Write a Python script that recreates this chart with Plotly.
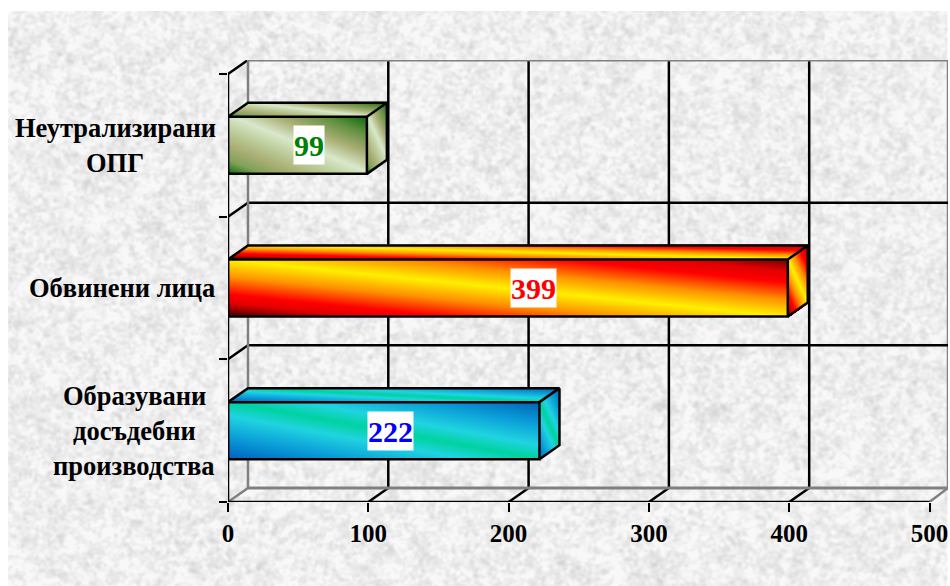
import base64, struct, zlib
import numpy as np
import plotly.graph_objects as go

# ---- data ----
categories = [["Образувани", "досъдебни", "производства"], ["Обвинени лица"], ["Неутрализирани", "ОПГ"]]
values = [222, 399, 99]
label_colors = ["#0000FF", "#FF0000", "#008000"]
x_ticks = [0, 100, 200, 300, 400, 500]

# ---- page geometry (px in the window) ----
FIG_W, FIG_H = 950, 586
PL, PR, PT, PB = 228, 948.5, 60, 502
X_PER_PX = 100 / 140.4
Y_PER_PX = 3 / 428.0
DX, DY = 20 * X_PER_PX, 14 * Y_PER_PX
XMAX = (PR - PL) * X_PER_PX
YMAX = 3 + DY
BAR_H = 0.4

green = [[0, "#0b680b"], [.12, "#7fa058"], [.25, "#a9ae74"], [.38, "#bccb98"], [.52, "#d8e8ca"], [.68, "#a9ae74"], [.85, "#5f8f3f"], [1, "#0b680b"]]
fire = [[0, "#300000"], [.12, "#e00000"], [.2, "#ff0000"], [.35, "#ff9000"], [.5, "#fff000"], [.65, "#ff9000"], [.8, "#ff0000"], [.9, "#e00000"], [1, "#700000"]]
ocean = [[0, "#0060c0"], [.2, "#0a9fd8"], [.38, "#20d4e0"], [.5, "#00d2a0"], [.62, "#20d4e0"], [.8, "#0a9fd8"], [1, "#0060b8"]]
scales = [ocean, fire, green]


def blur(a, sigma):
    fy = np.fft.fftfreq(a.shape[0])[:, None]
    fx = np.fft.rfftfreq(a.shape[1])[None, :]
    return np.fft.irfft2(np.fft.rfft2(a) * np.exp(-2 * (np.pi * sigma) ** 2 * (fx ** 2 + fy ** 2)), s=a.shape)


def texture(w, h):
    yy, xx = np.mgrid[0:h, 0:w].astype(float)
    n = np.sin(xx * 12.9898 + yy * 78.233 + xx * yy * 0.00371) * 43758.5453
    n -= np.floor(n)
    n = n - n.mean()
    fine, coarse = blur(n, 1.5), blur(n, 4.5)
    f = fine / fine.std() + 0.3 * coarse / coarse.std()
    f /= f.std()
    v = 239 - np.clip(f, -1.3, 3.5) * 7
    g = np.clip(v, 0, 255).astype(np.uint8)
    raw = b"".join(b"\x00" + g[i].tobytes() for i in range(h))

    def chunk(t, d):
        return struct.pack(">I", len(d)) + t + d + struct.pack(">I", zlib.crc32(t + d))
    png = b"\x89PNG\r\n\x1a\n" + chunk(b"IHDR", struct.pack(">IIBBBBB", w, h, 8, 0, 0, 0, 0)) + chunk(b"IDAT", zlib.compress(raw, 9)) + chunk(b"IEND", b"")
    return "data:image/png;base64," + base64.b64encode(png).decode()


def face(origin, uvec, vvec, scale):
    """Diagonal gradient on a parallelogram, drawn as a masked heatmap."""
    xs = [origin[0], origin[0] + uvec[0], origin[0] + vvec[0], origin[0] + uvec[0] + vvec[0]]
    ys = [origin[1], origin[1] + uvec[1], origin[1] + vvec[1], origin[1] + uvec[1] + vvec[1]]
    xe = np.arange(min(xs), max(xs) + X_PER_PX, X_PER_PX)
    ye = np.arange(min(ys), max(ys) + Y_PER_PX, Y_PER_PX)
    xc, yc = np.meshgrid((xe[:-1] + xe[1:]) / 2, (ye[:-1] + ye[1:]) / 2)
    det = uvec[0] * vvec[1] - uvec[1] * vvec[0]
    px, py = xc - origin[0], yc - origin[1]
    u = (px * vvec[1] - py * vvec[0]) / det
    v = (py * uvec[0] - px * uvec[1]) / det
    z = (u + v) / 2
    tu = 1 / np.hypot(uvec[0] / X_PER_PX, uvec[1] / Y_PER_PX)
    tv = 1 / np.hypot(vvec[0] / X_PER_PX, vvec[1] / Y_PER_PX)
    z[(u < -tu) | (u > 1 + tu) | (v < -tv) | (v > 1 + tv)] = np.nan
    return go.Heatmap(x=xe, y=ye, z=z, zmin=0, zmax=1, colorscale=scale, showscale=False,
                      hoverinfo="skip", xaxis="x2", yaxis="y2")


def line(xs, ys, color="black", width=2.5):
    return go.Scatter(x=xs, y=ys, mode="lines", line=dict(color=color, width=width), hoverinfo="skip",
                      showlegend=False, cliponaxis=False)


fig = go.Figure()

# walls and floor
GRAY = "#808080"
for t in x_ticks[1:-1]:
    fig.add_trace(line([t + DX, t + DX], [DY, 3 + DY]))
    fig.add_trace(line([t, t + DX], [0, DY]))
fig.add_trace(line([500, XMAX], [0, DY], GRAY))
fig.add_trace(line([XMAX, XMAX], [DY, 3 + DY], GRAY))
for k in range(1, 3):
    fig.add_trace(line([DX, XMAX], [k + DY, k + DY]))
for k in range(1, 4):
    fig.add_trace(line([0, DX], [k, k + DY]))
fig.add_trace(line([0, DX], [0, DY], GRAY))
fig.add_trace(line([DX, DX], [DY, 3 + DY], GRAY))
fig.add_trace(line([DX, XMAX], [DY, DY], GRAY, 3))
fig.add_trace(line([DX, XMAX], [3 + DY, 3 + DY], GRAY, 3))
fig.add_trace(line([0, 0], [0, 3]))
fig.add_trace(line([0, 500], [0, 0]))

# bars
annotations = []
label_center_px = [390.5, 533.5, 309]
text_center_px = [134, 122, 115]
for i, val in enumerate(values):
    yb = i + 0.5 - BAR_H / 2
    yt = yb + BAR_H
    sc = scales[i]
    fig.add_trace(face((0, yb), (val, 0), (0, BAR_H), sc))
    fig.add_trace(face((0, yt), (val, 0), (DX, DY), sc))
    fig.add_trace(face((val, yb), (DX, DY), (0, BAR_H), sc))
    fig.add_trace(go.Bar(x=[val], y=[i + 0.5], width=BAR_H, orientation="h", xaxis="x2", yaxis="y2",
                         marker=dict(color="rgba(0,0,0,0)", line=dict(color="black", width=2.5)),
                         hoverinfo="skip", showlegend=False))
    o = go.Scatter(x=[0, DX, val + DX, val, None, val + DX, val + DX, val, None, 0, 0],
                   y=[yt, yt + DY, yt + DY, yt, None, yt + DY, yb + DY, yb, None, yb, yt],
                   mode="lines", line=dict(color="black", width=2.5), xaxis="x2", yaxis="y2",
                   hoverinfo="skip", showlegend=False, cliponaxis=False)
    fig.add_trace(o)
    annotations.append(dict(x=(label_center_px[i] - PL) * X_PER_PX, y=i + 0.5, xref="x", yref="y", text=str(val),
                            showarrow=False, bgcolor="white", borderpad=0, height=38, valign="middle",
                            font=dict(family="Liberation Serif", size=30, color=label_colors[i], weight=700)))
    lines = categories[i]
    for j, t in enumerate(lines):
        annotations.append(dict(x=(text_center_px[i] - PL) / (PR - PL), y=i + 0.5, xref="paper", yref="y", text=t,
                                yshift=-(j - (len(lines) - 1) / 2) * 35, showarrow=False, xanchor="center",
                                font=dict(family="Liberation Serif", size=26.5, color="black", weight=700)))

img = dict(source=texture(940, 575), xref="paper", yref="paper", layer="below", sizing="stretch",
           xanchor="left", yanchor="top",
           x=(8 - PL) / (PR - PL),
           y=1 + (PT - 11) / (PB - PT), sizex=940 / (PR - PL), sizey=575 / (PB - PT))

common = dict(showgrid=False, zeroline=False, showline=False)
fig.update_layout(
    width=FIG_W, height=FIG_H, autosize=False,
    margin=dict(l=PL, r=FIG_W - PR, t=PT, b=FIG_H - PB, pad=0),
    paper_bgcolor="white", plot_bgcolor="rgba(0,0,0,0)", showlegend=False, barmode="overlay",
    font=dict(family="Liberation Serif"),
    images=[img], annotations=annotations,
    xaxis=dict(range=[0, XMAX], tickvals=x_ticks, ticks="outside", ticklen=9, tickwidth=2.2, tickcolor="black",
               tickfont=dict(family="Liberation Serif", size=25, color="black", weight=700), **common),
    yaxis=dict(range=[0, YMAX], tickvals=[0, 1, 2, 3], ticktext=["", "", "", ""], ticks="outside", ticklen=8,
               tickwidth=2.2, tickcolor="black", **common),
    xaxis2=dict(range=[0, XMAX], overlaying="x", visible=False, **common),
    yaxis2=dict(range=[0, YMAX], overlaying="y", visible=False, **common),
)
fig.write_html("out.html", config=dict(displayModeBar=False),
               post_script="document.documentElement.style.overflow='hidden';document.body.style.margin='0';")
